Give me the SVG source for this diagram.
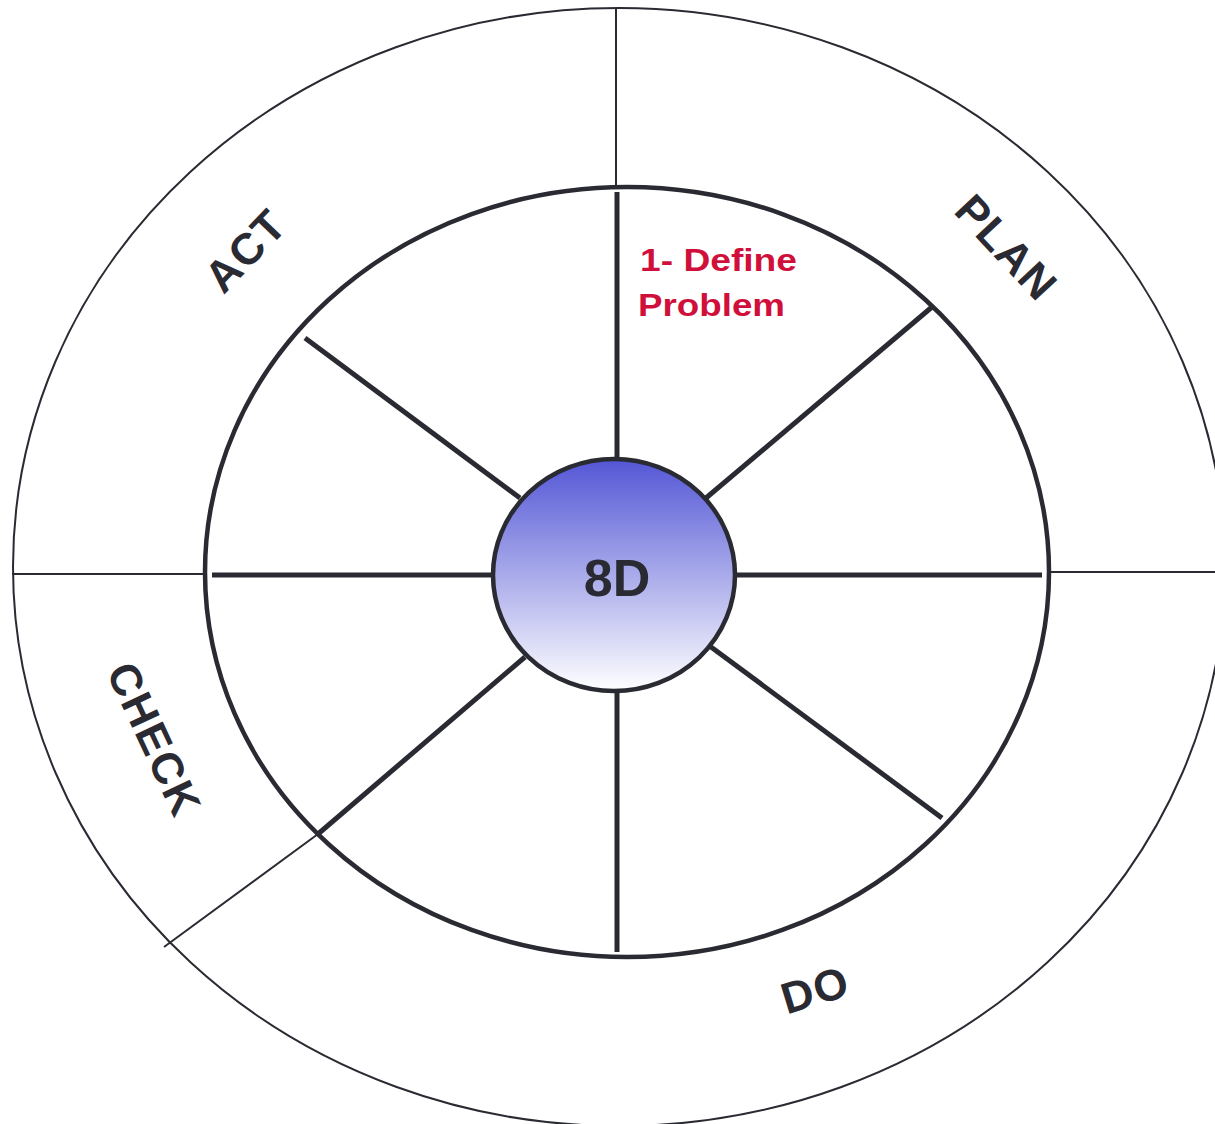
<svg xmlns="http://www.w3.org/2000/svg" width="1215" height="1124" viewBox="0 0 1215 1124">
  <style>
    .thin { stroke: #2a2a33; stroke-width: 2; fill: none; }
    .ring { stroke: #2a2a33; stroke-width: 4.5; fill: none; }
    .spoke { stroke: #2a2a33; stroke-width: 5; fill: none; }
    .phase { font-family: "Liberation Sans", Arial, sans-serif; font-weight: bold; font-size: 44px; fill: #2a2a33; text-anchor: middle; letter-spacing: 1.5px; }
    .step { font-family: "Liberation Sans", Arial, sans-serif; font-weight: bold; font-size: 31px; fill: #d0103a; }
    .core { font-family: "Liberation Sans", Arial, sans-serif; font-weight: bold; font-size: 52px; fill: #2a2a33; text-anchor: middle; }
  </style>
  <defs>
    <linearGradient id="coreGrad" x1="0" y1="0" x2="0" y2="1">
      <stop offset="0" stop-color="#5356d5"/>
      <stop offset="1" stop-color="#ffffff"/>
    </linearGradient>
  </defs>
  <rect width="1215" height="1124" fill="#ffffff"/>

  <g id="outer-ring">
    <ellipse class="thin" cx="619" cy="567" rx="606" ry="559"/>
  </g>

  <g id="connectors">
    <line class="thin" x1="616" y1="8" x2="616" y2="185"/>
    <line class="thin" x1="12" y1="574" x2="203" y2="574"/>
    <line class="thin" x1="1050" y1="572" x2="1215" y2="572"/>
    <line class="thin" x1="164" y1="947" x2="318" y2="834"/>

    <line class="spoke" x1="617" y1="192" x2="617" y2="458"/>
    <line class="spoke" x1="706" y1="498" x2="932" y2="307"/>
    <line class="spoke" x1="735" y1="575" x2="1042" y2="575"/>
    <line class="spoke" x1="711" y1="647" x2="942" y2="818"/>
    <line class="spoke" x1="617" y1="692" x2="617" y2="952"/>
    <line class="spoke" x1="525" y1="657" x2="318" y2="834"/>
    <line class="spoke" x1="212" y1="575" x2="493" y2="575"/>
    <line class="spoke" x1="520" y1="498" x2="305" y2="338"/>
  </g>

  <g id="inner-ring">
    <ellipse class="ring" cx="627" cy="572" rx="422" ry="385"/>
  </g>

  <g id="core">
    <ellipse cx="614" cy="575" rx="121" ry="116" fill="url(#coreGrad)" stroke="#2a2a33" stroke-width="4.5"/>
    <text class="core" x="617" y="596">8D</text>
  </g>

  <g id="step-1">
    <text class="step" x="640" y="271" textLength="157" lengthAdjust="spacingAndGlyphs">1- Define</text>
    <text class="step" x="638" y="316" textLength="147" lengthAdjust="spacingAndGlyphs">Problem</text>
  </g>

  <g id="label-act" transform="translate(245,250) rotate(-46)">
    <text class="phase" x="0" y="16">ACT</text>
  </g>
  <g id="label-plan" transform="translate(1007,247) rotate(47)">
    <text class="phase" x="0" y="16">PLAN</text>
  </g>
  <g id="label-check" transform="translate(155,739) rotate(65)">
    <text class="phase" x="0" y="16">CHECK</text>
  </g>
  <g id="label-do" transform="translate(815,989) rotate(-17)">
    <text class="phase" x="0" y="16">DO</text>
  </g>
</svg>
